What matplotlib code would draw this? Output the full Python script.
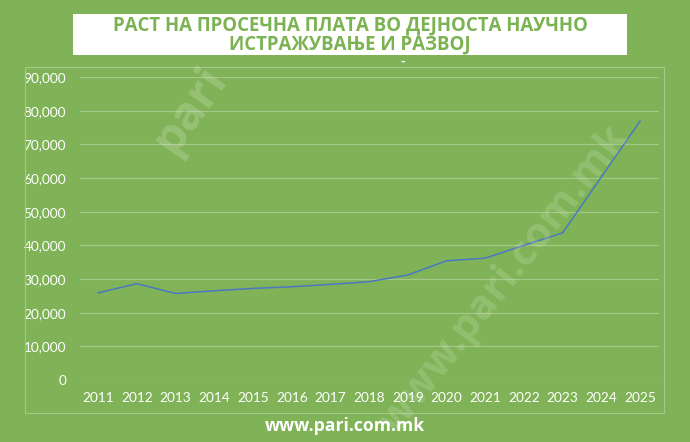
import matplotlib
matplotlib.use("Agg")
import matplotlib.pyplot as plt
from matplotlib.patches import Rectangle
from matplotlib.ticker import FuncFormatter

# Data
years = [2011, 2012, 2013, 2014, 2015, 2016, 2017, 2018, 2019, 2020, 2021, 2022, 2023, 2024, 2025]
salary = [25900, 28600, 25700, 26500, 27200, 27700, 28400, 29200, 31200, 35400, 36200, 40000, 43700, 60300, 76900]
title_text = "РАСТ НА ПРОСЕЧНА ПЛАТА ВО ДЕЈНОСТА НАУЧНО\nИСТРАЖУВАЊЕ И РАЗВОЈ"
footer_text = "www.pari.com.mk"

bg = "#80b357"
grid_col = "#a3c98a"
title_col = "#7cb352"

fig = plt.figure(figsize=(6.9, 4.42), dpi=100, facecolor=bg)
W, H = 690, 442

# outer chart border
fig.patches.append(Rectangle((25 / W, 1 - 413 / H), 639 / W, 346 / H, transform=fig.transFigure,
                             fill=False, edgecolor=grid_col, linewidth=0.8))

# title box
fig.patches.append(Rectangle((73 / W, 1 - 55 / H), 554 / W, 41 / H, transform=fig.transFigure,
                             facecolor="white", edgecolor="none"))
fig.text(350 / W, 1 - 35 / H, title_text, ha="center", va="center", color=title_col,
         fontsize=13.4, fontweight="bold", family="Open Sans", linespacing=0.92)
fig.text(403 / W, 1 - 62 / H, "-", ha="center", va="center", color="white",
         fontsize=8, fontweight="bold", family="DejaVu Sans")

ax = fig.add_axes([80 / W, 1 - 380 / H, 579 / W, 303 / H])
ax.set_facecolor(bg)
ax.plot(years, salary, color="#4a78c0", linewidth=1.1, zorder=3)

ax.set_xlim(2010.53, 2025.49)
ax.set_ylim(0, 90000)
ax.set_yticks(range(0, 90001, 10000))
ax.set_xticks(years)
ax.yaxis.set_major_formatter(FuncFormatter(lambda v, p: f"{int(v):,}"))
ax.grid(axis="y", color=grid_col, linewidth=0.9)
ax.set_axisbelow(True)
for s in ax.spines.values():
    s.set_visible(False)
ax.tick_params(length=0, colors="white", labelsize=9.8)
ax.tick_params(axis="y", pad=10)
ax.tick_params(axis="x", pad=8.5)
for lab in ax.get_xticklabels() + ax.get_yticklabels():
    lab.set_family("Lato")

# faint watermark
fig.text(190 / W, 1 - 110 / H, "pari", rotation=55, ha="center", va="center", color="white",
         alpha=0.18, fontsize=34, fontweight="bold", family="Open Sans")
fig.text(505 / W, 1 - 280 / H, "www.pari.com.mk", rotation=52, ha="center", va="center",
         color="white", alpha=0.15, fontsize=30, fontweight="bold", family="Open Sans")

fig.text(345 / W, 1 - 426 / H, footer_text, ha="center", va="center", color="white",
         fontsize=12.7, fontweight="bold", family="Open Sans")

fig.savefig("out.png", dpi=100, facecolor=bg)
